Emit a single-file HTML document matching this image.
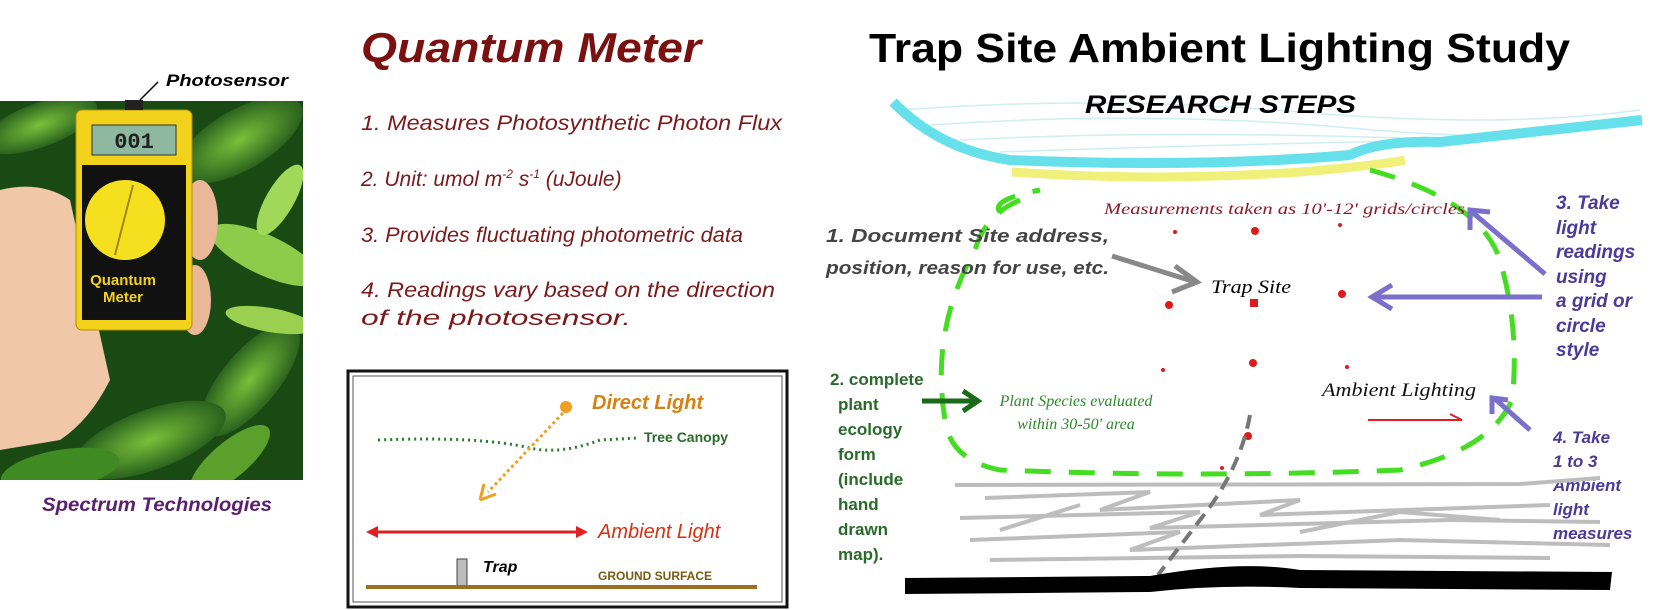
<!DOCTYPE html>
<html><head><meta charset="utf-8"><style>
html,body{margin:0;padding:0;background:#fff;}
body{width:1665px;height:610px;overflow:hidden;position:relative;}
svg{position:absolute;left:0;top:0;}
</style></head><body>
<svg width="1665" height="610" viewBox="0 0 1665 610" xmlns="http://www.w3.org/2000/svg">
<defs>
<radialGradient id="lf" cx="50%" cy="50%" r="60%"><stop offset="0" stop-color="#7ac03a"/><stop offset="1" stop-color="#1a5018"/></radialGradient>
<clipPath id="ph"><rect x="0" y="101" width="303" height="379"/></clipPath>
</defs>
<!-- Photo -->
<g clip-path="url(#ph)">
<rect x="0" y="101" width="303" height="379" fill="#1a4a14"/>
<ellipse cx="240" cy="140" rx="70" ry="30" fill="url(#lf)" transform="rotate(-30 240 140)"/>
<ellipse cx="265" cy="255" rx="60" ry="20" fill="#8ccc4a" transform="rotate(25 265 255)"/>
<ellipse cx="250" cy="380" rx="70" ry="28" fill="url(#lf)" transform="rotate(-50 250 380)"/>
<ellipse cx="150" cy="440" rx="80" ry="30" fill="url(#lf)" transform="rotate(-20 150 440)"/>
<ellipse cx="40" cy="125" rx="60" ry="22" fill="url(#lf)" transform="rotate(-20 40 125)"/>
<ellipse cx="280" cy="200" rx="40" ry="14" fill="#a0d85a" transform="rotate(-60 280 200)"/>
<ellipse cx="270" cy="320" rx="45" ry="12" fill="#9ad050" transform="rotate(10 270 320)"/>
<ellipse cx="60" cy="470" rx="60" ry="20" fill="#3f8a22" transform="rotate(-10 60 470)"/>
<ellipse cx="230" cy="460" rx="50" ry="18" fill="#5aa02a" transform="rotate(-40 230 460)"/>
<path d="M0 190 Q40 180 70 200 L110 380 Q90 420 60 440 L0 450 Z" fill="#f0c8a8"/>
<ellipse cx="200" cy="220" rx="18" ry="40" fill="#eab898"/>
<ellipse cx="195" cy="300" rx="16" ry="35" fill="#eab898"/>
</g>
<!-- meter -->
<rect x="76" y="110" width="116" height="220" rx="6" fill="#f2d21a" stroke="#b09000"/>
<rect x="92" y="125" width="84" height="30" fill="#8fb8a0" stroke="#333"/>
<text x="134" y="148" font-family="Liberation Mono,monospace" font-size="22" font-weight="bold" text-anchor="middle" fill="#222">001</text>
<rect x="82" y="165" width="104" height="155" fill="#111"/>
<circle cx="125" cy="220" r="40" fill="#f5e020"/>
<line x1="115" y1="255" x2="133" y2="185" stroke="#a08800" stroke-width="2"/>
<text x="123" y="285" font-family="Liberation Sans,sans-serif" font-size="15" font-weight="bold" fill="#f2d21a" text-anchor="middle">Quantum</text>
<text x="123" y="302" font-family="Liberation Sans,sans-serif" font-size="15" font-weight="bold" fill="#f2d21a" text-anchor="middle">Meter</text>
<rect x="125" y="100" width="18" height="10" fill="#222"/>
<line x1="140" y1="100" x2="158" y2="82" stroke="#000" stroke-width="1.5"/>
<text x="166" y="86" font-family="Liberation Sans,sans-serif" font-size="17" font-weight="bold" font-style="italic" fill="#000" textLength="122" lengthAdjust="spacingAndGlyphs">Photosensor</text>
<text x="42" y="511" font-family="Liberation Sans,sans-serif" font-size="19" font-weight="bold" font-style="italic" fill="#5a2070" textLength="230" lengthAdjust="spacingAndGlyphs">Spectrum Technologies</text>

<!-- Quantum Meter -->
<text x="361" y="62" font-family="Liberation Sans,sans-serif" font-size="42" font-weight="bold" font-style="italic" fill="#7a1010" textLength="340" lengthAdjust="spacingAndGlyphs">Quantum Meter</text>
<g font-family="Liberation Sans,sans-serif" font-size="21" font-style="italic" fill="#7a1a1a">
<text x="361" y="130" textLength="421" lengthAdjust="spacingAndGlyphs">1.   Measures Photosynthetic Photon Flux</text>
<text x="361" y="186">2.   Unit: umol m<tspan font-size="12" dy="-8">-2</tspan><tspan dy="8"> s</tspan><tspan font-size="12" dy="-8">-1</tspan><tspan dy="8"> (uJoule)</tspan></text>
<text x="361" y="242" textLength="382" lengthAdjust="spacingAndGlyphs">3.   Provides fluctuating photometric data</text>
<text x="361" y="297" textLength="414" lengthAdjust="spacingAndGlyphs">4.   Readings vary based on the direction</text>
<text x="361" y="325" textLength="270" lengthAdjust="spacingAndGlyphs">of the photosensor.</text>
</g>
<!-- box -->
<rect x="348" y="371" width="439" height="236" fill="#fff" stroke="#111" stroke-width="3"/>
<rect x="353" y="376" width="429" height="226" fill="none" stroke="#555" stroke-width="1"/>
<circle cx="566" cy="407" r="6" fill="#f0a020"/>
<text x="592" y="409" font-family="Liberation Sans,sans-serif" font-size="20" font-weight="bold" font-style="italic" fill="#d88010">Direct Light</text>
<path d="M378 440 Q480 436 530 448 Q560 455 600 440 L637 438" fill="none" stroke="#2a7a2a" stroke-width="3" stroke-dasharray="2 4"/>
<text x="644" y="442" font-family="Liberation Sans,sans-serif" font-size="14" font-weight="bold" fill="#2a6a2a">Tree Canopy</text>
<line x1="563" y1="413" x2="488" y2="492" stroke="#f0a020" stroke-width="3" stroke-dasharray="3 3"/>
<path d="M480 500 L484 484 M480 500 L496 494" stroke="#f0a020" stroke-width="3" fill="none"/>
<line x1="372" y1="532" x2="582" y2="532" stroke="#e02020" stroke-width="3"/>
<path d="M366 532 L378 526 L378 538 Z M588 532 L576 526 L576 538 Z" fill="#e02020"/>
<text x="598" y="538" font-family="Liberation Sans,sans-serif" font-size="20" font-style="italic" fill="#d83010">Ambient Light</text>
<rect x="457" y="559" width="10" height="28" fill="#bbb" stroke="#444"/>
<text x="483" y="572" font-family="Liberation Sans,sans-serif" font-size="16" font-weight="bold" font-style="italic" fill="#000">Trap</text>
<text x="598" y="580" font-family="Liberation Sans,sans-serif" font-size="12" font-weight="bold" fill="#7a5a10">GROUND SURFACE</text>
<rect x="366" y="585" width="391" height="4" fill="#9a7020"/>

<!-- Right -->
<text x="869" y="62" font-family="Liberation Sans,sans-serif" font-size="41" font-weight="bold" fill="#000" textLength="701" lengthAdjust="spacingAndGlyphs">Trap Site Ambient Lighting Study</text>
<g stroke="#cfeef2" stroke-width="1.5" fill="none">
<path d="M900 110 Q1100 95 1300 112 T1640 110"/><path d="M930 125 Q1150 110 1350 128 T1620 122"/><path d="M960 140 Q1150 130 1400 138"/><path d="M1000 152 Q1200 145 1450 140"/>
</g>
<text x="1085" y="113" font-family="Liberation Sans,sans-serif" font-size="25" font-weight="bold" font-style="italic" fill="#000" textLength="271" lengthAdjust="spacingAndGlyphs">RESEARCH STEPS</text>
<path d="M893 102 Q940 150 1010 160 Q1200 168 1350 155 Q1380 140 1440 142 Q1550 130 1642 120" fill="none" stroke="#66e0ea" stroke-width="10"/>
<path d="M1012 172 Q1150 182 1300 172 Q1380 165 1405 160" fill="none" stroke="#f0f07a" stroke-width="9"/>
<path d="M1000 212 Q990 200 1040 190 M1370 170 Q1480 200 1500 260 Q1520 330 1512 400 Q1490 450 1400 470 Q1200 478 1000 470 Q950 460 945 420 Q930 330 975 250 Q985 215 1020 200" fill="none" stroke="#44dd22" stroke-width="5" stroke-dasharray="26 18"/>
<text x="1104" y="214" font-family="Liberation Serif,serif" font-size="16" font-style="italic" fill="#8b1a2a" textLength="361" lengthAdjust="spacingAndGlyphs">Measurements taken as 10'-12' grids/circles</text>
<g font-family="Liberation Sans,sans-serif" font-size="18" font-weight="bold" font-style="italic" fill="#444">
<text x="826" y="242" textLength="283" lengthAdjust="spacingAndGlyphs">1. Document Site address,</text>
<text x="826" y="274" textLength="283" lengthAdjust="spacingAndGlyphs">position, reason for use, etc.</text>
</g>
<path d="M1112 256 L1192 281" stroke="#888" stroke-width="5"/>
<path d="M1175 266 L1197 282 L1172 292" stroke="#888" stroke-width="5" fill="none"/>
<text x="1211" y="293" font-family="Liberation Serif,serif" font-size="19" font-style="italic" fill="#000" textLength="80" lengthAdjust="spacingAndGlyphs">Trap Site</text>
<g fill="#e01a1a">
<circle cx="1175" cy="232" r="2"/><circle cx="1255" cy="231" r="4"/><circle cx="1340" cy="225" r="2"/>
<circle cx="1169" cy="305" r="4"/><rect x="1250" y="299" width="8" height="8"/><circle cx="1342" cy="294" r="4"/>
<circle cx="1163" cy="370" r="2"/><circle cx="1253" cy="363" r="4"/><circle cx="1347" cy="367" r="2"/>
<circle cx="1248" cy="436" r="4"/><circle cx="1222" cy="468" r="2"/>
</g>
<g stroke="#7a70cc" stroke-width="5" fill="none">
<path d="M1545 274 L1472 212 M1470 230 L1470 210 L1490 212"/>
<path d="M1542 297 L1372 297 M1392 285 L1372 297 L1392 309"/>
<path d="M1530 430 L1494 398 M1492 414 L1492 398 L1508 400"/>
</g>
<g font-family="Liberation Sans,sans-serif" font-size="19" font-weight="bold" font-style="italic" fill="#4a3a99">
<text x="1556" y="209">3. Take</text><text x="1556" y="234">light</text><text x="1556" y="258">readings</text><text x="1556" y="283">using</text><text x="1556" y="307">a grid or</text><text x="1556" y="332">circle</text><text x="1556" y="356">style</text>
<text x="1553" y="443" font-size="17">4. Take</text><text x="1553" y="467" font-size="17">1 to 3</text><text x="1553" y="491" font-size="17">Ambient</text><text x="1553" y="515" font-size="17">light</text><text x="1553" y="539" font-size="17">measures</text>
</g>
<g font-family="Liberation Sans,sans-serif" font-size="17" font-weight="bold" fill="#2a6a2a">
<text x="830" y="385">2. complete</text><text x="838" y="410">plant</text><text x="838" y="435">ecology</text><text x="838" y="460">form</text><text x="838" y="485">(include</text><text x="838" y="510">hand</text><text x="838" y="535">drawn</text><text x="838" y="560">map).</text>
</g>
<path d="M922 401 L975 401 M963 391 L978 401 L963 411" stroke="#1a6a1a" stroke-width="5" fill="none"/>
<g font-family="Liberation Serif,serif" font-size="16" font-style="italic" fill="#2a8a2a" text-anchor="middle">
<text x="1076" y="406">Plant Species evaluated</text><text x="1076" y="429">within 30-50' area</text>
</g>
<text x="1322" y="396" font-family="Liberation Serif,serif" font-size="19" font-style="italic" fill="#111" textLength="154" lengthAdjust="spacingAndGlyphs">Ambient Lighting</text>
<path d="M1368 420 L1462 420 L1450 414" stroke="#e02020" stroke-width="2" fill="none"/>
<g stroke="#bdbdbd" stroke-width="4" fill="none">
<path d="M955 485 L1520 484 L1600 478"/><path d="M985 498 L1150 492 L1100 510 L1300 500 L1260 515 L1550 505"/>
<path d="M960 518 L1200 512 L1150 528 L1450 520 L1600 522"/><path d="M970 540 L1180 532 L1130 550 L1400 540 L1610 545"/>
<path d="M990 560 L1300 556 L1550 558"/><path d="M1000 530 L1080 505"/><path d="M1300 532 L1400 512 L1500 520"/>
</g>
<path d="M1250 415 Q1240 470 1200 520 L1158 575" stroke="#777" stroke-width="4" stroke-dasharray="14 8" fill="none"/>
<path d="M905 578 L1150 576 Q1240 560 1300 570 L1612 572 L1610 590 L1300 588 Q1220 584 1150 592 L905 594 Z" fill="#000"/>
</svg>
</body></html>
